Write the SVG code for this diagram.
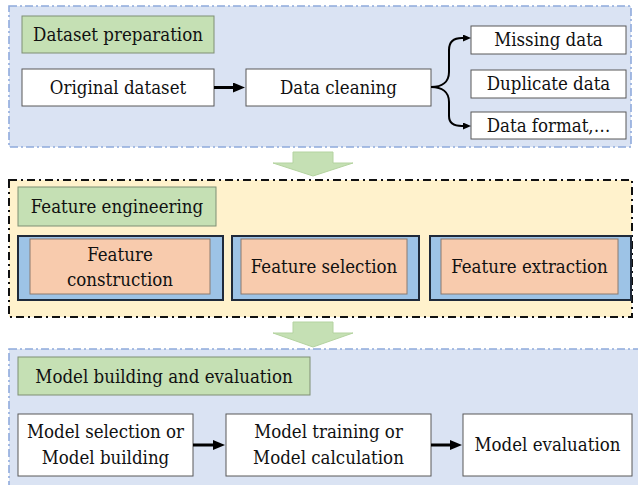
<svg xmlns="http://www.w3.org/2000/svg" width="638" height="485" viewBox="0 0 638 485">
  <style>
    text { font-family: "DejaVu Serif Condensed", "DejaVu Serif", serif; font-stretch: condensed; font-size: 18.5px; fill: #111; text-anchor: middle; }
    .panel-blue { fill: #dae3f3; stroke: #8faadc; stroke-width: 1.6; stroke-dasharray: 8 3 2 3; }
    .panel-yellow { fill: #fff2cc; stroke: #111; stroke-width: 2; stroke-dasharray: 8 4 2 4; }
    .title { fill: #c5e0b4; stroke: #7f8f74; stroke-width: 1; }
    .box { fill: #ffffff; stroke: #595959; stroke-width: 1; }
    .outer { fill: #9dc3e6; stroke: #1f2a3a; stroke-width: 2; }
    .inner { fill: #f8cbad; stroke: #8c7a6e; stroke-width: 1; }
    .flow { fill: #c5e0b4; stroke: #b4d3a0; stroke-width: 1; }
    .conn { fill: none; stroke: #000; stroke-width: 3; }
    .brace { fill: none; stroke: #000; stroke-width: 2; }
  </style>
  <defs>
    <marker id="arrow" viewBox="0 0 12 10" markerWidth="12" markerHeight="10" refX="1" refY="5" markerUnits="userSpaceOnUse" orient="auto">
      <path d="M0,0 L12,5 L0,10 z" fill="#000"/>
    </marker>
    <marker id="arrow-small" viewBox="0 0 8 7" markerWidth="8" markerHeight="7" refX="1" refY="3.5" markerUnits="userSpaceOnUse" orient="auto">
      <path d="M0,0 L8,3.5 L0,7 z" fill="#000"/>
    </marker>
  </defs>

  <!-- stage panels -->
  <rect id="panel-preparation" class="panel-blue" x="9" y="6" width="622" height="141"/>
  <rect id="panel-features" class="panel-yellow" x="9" y="180" width="623" height="137"/>
  <rect id="panel-model" class="panel-blue" x="9" y="349" width="640" height="150"/>

  <!-- stage-to-stage block arrows -->
  <polygon id="flow-1" class="flow" points="293,152 333,152 333,163 353,163 313,176 273,163 293,163"/>
  <polygon id="flow-2" class="flow" points="293,322 333,322 333,333 353,333 313,347 273,333 293,333"/>

  <!-- stage 1: dataset preparation -->
  <g id="title-preparation">
    <rect class="title" x="22" y="16" width="192" height="37"/>
    <text x="118" y="41">Dataset preparation</text>
  </g>
  <g id="original-dataset">
    <rect class="box" x="22" y="69" width="192" height="37"/>
    <text x="118" y="94">Original dataset</text>
  </g>
  <g id="data-cleaning">
    <rect class="box" x="246" y="69" width="185" height="37"/>
    <text x="338.5" y="94">Data cleaning</text>
  </g>
  <g id="missing-data">
    <rect class="box" x="471" y="26" width="155" height="28"/>
    <text x="548.5" y="46">Missing data</text>
  </g>
  <g id="duplicate-data">
    <rect class="box" x="471" y="70" width="155" height="28"/>
    <text x="548.5" y="90">Duplicate data</text>
  </g>
  <g id="data-format">
    <rect class="box" x="471" y="112" width="155" height="27"/>
    <text x="548.5" y="132">Data format,…</text>
  </g>

  <!-- stage 2: feature engineering -->
  <g id="title-features">
    <rect class="title" x="18" y="187" width="198" height="39"/>
    <text x="117" y="213">Feature engineering</text>
  </g>
  <g id="feature-construction">
    <rect class="outer" x="18" y="236" width="205" height="64"/>
    <rect class="inner" x="30" y="239" width="180" height="55"/>
    <text x="120" y="261">Feature</text>
    <text x="120" y="286">construction</text>
  </g>
  <g id="feature-selection">
    <rect class="outer" x="232" y="236" width="187" height="64"/>
    <rect class="inner" x="241" y="239" width="166" height="55"/>
    <text x="324" y="273">Feature selection</text>
  </g>
  <g id="feature-extraction">
    <rect class="outer" x="430" y="236" width="201" height="64"/>
    <rect class="inner" x="441" y="239" width="177" height="55"/>
    <text x="529.5" y="273">Feature extraction</text>
  </g>

  <!-- stage 3: model building and evaluation -->
  <g id="title-model">
    <rect class="title" x="18" y="357" width="292" height="38"/>
    <text x="164" y="383">Model building and evaluation</text>
  </g>
  <g id="model-selection">
    <rect class="box" x="18" y="414" width="175" height="62"/>
    <text x="105.5" y="438">Model selection or</text>
    <text x="105.5" y="464">Model building</text>
  </g>
  <g id="model-training">
    <rect class="box" x="226" y="414" width="205" height="62"/>
    <text x="328.5" y="438">Model training or</text>
    <text x="328.5" y="464">Model calculation</text>
  </g>
  <g id="model-evaluation">
    <rect class="box" x="463" y="414" width="169" height="62"/>
    <text x="547.5" y="451">Model evaluation</text>
  </g>

  <!-- connectors -->
  <g id="connectors">
    <line class="conn" x1="214" y1="87.5" x2="234" y2="87.5" marker-end="url(#arrow)"/>
    <path class="brace" d="M431,87 C442,87 449,82 449,72 L449,50 C449,42 454,38 462,38 L464,38" marker-end="url(#arrow-small)"/>
    <path class="brace" d="M431,87 C442,87 449,92 449,102 L449,116 C449,123 454,126 462,126 L464,126" marker-end="url(#arrow-small)"/>
    <line class="conn" x1="193" y1="445" x2="214" y2="445" marker-end="url(#arrow)"/>
    <line class="conn" x1="431" y1="445" x2="451" y2="445" marker-end="url(#arrow)"/>
  </g>
</svg>
